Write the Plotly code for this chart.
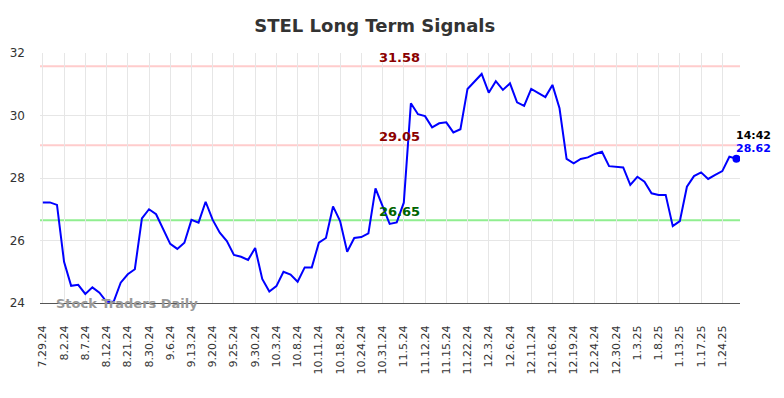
import plotly.graph_objects as go

tick_labels = ["7.29.24", "8.2.24", "8.7.24", "8.12.24", "8.21.24", "8.30.24", "9.6.24",
               "9.13.24", "9.20.24", "9.25.24", "9.30.24", "10.3.24", "10.8.24", "10.11.24",
               "10.18.24", "10.24.24", "10.31.24", "11.5.24", "11.12.24", "11.15.24",
               "11.22.24", "12.3.24", "12.6.24", "12.11.24", "12.16.24", "12.19.24",
               "12.24.24", "12.30.24", "1.3.25", "1.8.25", "1.13.25", "1.17.25", "1.24.25"]

prices = [27.22, 27.22, 27.14, 25.32, 24.55, 24.58, 24.29, 24.50, 24.33, 24.04,
          24.04, 24.65, 24.92, 25.08, 26.71, 27.00, 26.84, 26.36, 25.89, 25.73,
          25.93, 26.66, 26.57, 27.24, 26.66, 26.25, 25.98, 25.54, 25.48, 25.38,
          25.76, 24.77, 24.37, 24.54, 25.00, 24.91, 24.68, 25.14, 25.14, 25.93,
          26.08, 27.09, 26.62, 25.64, 26.08, 26.11, 26.23, 27.67, 27.11, 26.53,
          26.58, 27.21, 30.39, 30.04, 29.98, 29.62, 29.75, 29.78, 29.46, 29.56,
          30.85, 31.08, 31.33, 30.73, 31.10, 30.82, 31.03, 30.42, 30.31, 30.85,
          30.71, 30.59, 30.98, 30.23, 28.61, 28.47, 28.61, 28.66, 28.77, 28.84,
          28.38, 28.35, 28.34, 27.78, 28.04, 27.88, 27.51, 27.46, 27.46, 26.46,
          26.62, 27.72, 28.06, 28.18, 27.97, 28.10, 28.22, 28.68, 28.62]

upper_signal = 31.58
mid_signal = 29.05
lower_signal = 26.65
last_time = "14:42"

x_idx = list(range(len(prices)))
tick_vals = list(range(0, len(prices), 3))[:len(tick_labels)]

FONT = "DejaVu Sans"

fig = go.Figure()
fig.add_trace(go.Scatter(x=x_idx, y=prices, mode="lines",
                         line=dict(color="#0000ff", width=2), hoverinfo="skip"))
fig.add_trace(go.Scatter(x=[x_idx[-1]], y=[prices[-1]], mode="markers",
                         marker=dict(color="#0000ff", size=8), hoverinfo="skip"))

for val, col in [(upper_signal, "#ffcccc"), (mid_signal, "#ffcccc"), (lower_signal, "#90ee90")]:
    fig.add_shape(type="line", xref="paper", x0=0, x1=1, yref="y", y0=val, y1=val,
                  line=dict(color=col, width=2), layer="below")

ann_x = 50.4
for val, col in [(upper_signal, "#8b0000"), (mid_signal, "#8b0000"), (lower_signal, "#006400")]:
    fig.add_annotation(x=ann_x, y=val, text=f"{val:.2f}", showarrow=False,
                       yanchor="bottom", yshift=-1,
                       font=dict(family=FONT, size=13, color=col, weight="bold"))

fig.add_annotation(x=x_idx[-1], y=prices[-1], text=last_time, showarrow=False,
                   xanchor="center", yanchor="middle", xshift=17, yshift=23,
                   font=dict(family=FONT, size=11, color="#000000", weight="bold"))
fig.add_annotation(x=x_idx[-1], y=prices[-1], text=f"{prices[-1]:.2f}", showarrow=False,
                   xanchor="center", yanchor="middle", xshift=17, yshift=10,
                   font=dict(family=FONT, size=11, color="#0000ff", weight="bold"))

fig.add_annotation(xref="paper", yref="y", x=0.02, y=24.0, text="Stock Traders Daily",
                   showarrow=False, xanchor="left", yanchor="middle",
                   font=dict(family=FONT, size=13, color="#999999", weight="bold"))

# page body has an 8px margin, so the figure is 776x390 placed at (8, 8)
fig.update_layout(
    width=776, height=390,
    margin=dict(l=32, r=44, t=45, b=95, autoexpand=False),
    paper_bgcolor="white", plot_bgcolor="white",
    showlegend=False,
    title=dict(text="STEL Long Term Signals", x=0.4726, xanchor="center", y=0.954,
               yanchor="middle", font=dict(family=FONT, size=18, color="#333333", weight="bold")),
    font=dict(family=FONT),
)
fig.update_xaxes(range=[-0.4, 98.5], tickvals=tick_vals, ticktext=tick_labels,
                 tickangle=-90, tickfont=dict(family=FONT, size=11, color="#333333"),
                 showgrid=True, gridcolor="#e6e6e6", gridwidth=1,
                 showline=True, linecolor="#555555", linewidth=1, automargin=False,
                 zeroline=False, ticks="", ticklabelstandoff=17)
fig.update_yaxes(range=[24, 32], tickvals=[24, 26, 28, 30, 32],
                 tickfont=dict(family=FONT, size=12, color="#333333"),
                 showgrid=True, gridcolor="#e6e6e6", gridwidth=1, automargin=False,
                 zeroline=False, showline=False, ticks="", ticklabelstandoff=14)

fig.write_html("out.html")
